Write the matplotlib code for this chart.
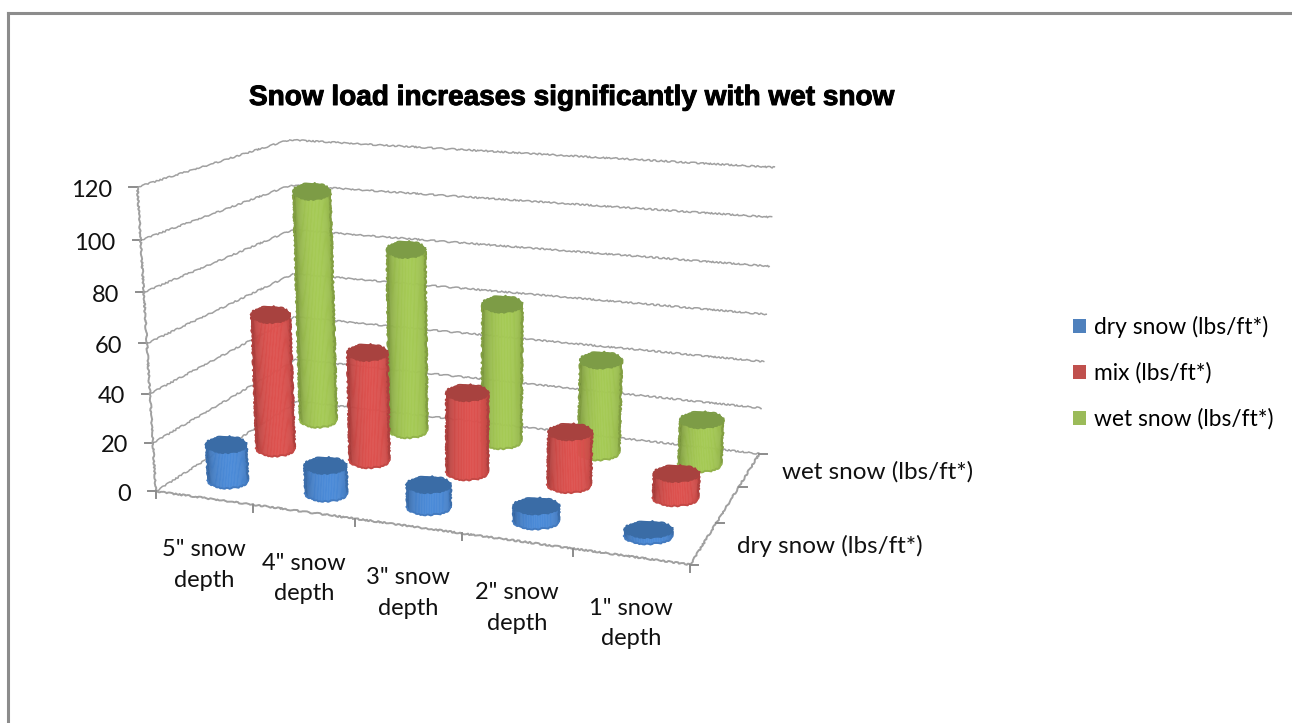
#!/usr/bin/env python3
# -*- coding: utf-8 -*-
import numpy as np
import matplotlib
matplotlib.use("Agg")
import matplotlib.pyplot as plt
from matplotlib.patches import Patch
from matplotlib.collections import PolyCollection
import matplotlib.patheffects as pe

plt.rcParams['font.family'] = ['Lato', 'DejaVu Sans']

# Chart data
categories = ['5" snow\ndepth', '4" snow\ndepth', '3" snow\ndepth', '2" snow\ndepth', '1" snow\ndepth']
series_names = ['dry snow (lbs/ft*)', 'mix (lbs/ft*)', 'wet snow (lbs/ft*)']
dry_snow = [15, 11.5, 9, 6, 2.5]
mix_snow = [58, 46, 33.5, 22, 10]
wet_snow = [102, 80, 60, 40, 19]
yticks = [0, 20, 40, 60, 80, 100, 120]
depth_ticks = [0, 2]        # only every other series gets a label

colors = ['#4f81bd', '#c0504d', '#9bbb59']
lit = ['#4a88d4', '#d9504d', '#a2c653']
tops = ['#3a6ca6', '#a8423f', '#7d9c46']

# camera calibration: (category, series, value) -> pixel, fitted by DLT
world = np.array([[0, 0, 0], [0, 0, 20], [0, 0, 40], [0, 0, 80], [0, 0, 100], [0, 0, 120],
                  [0, 3, 120], [0, 3, 0], [5, 3, 120], [5, 3, 60], [5, 3, 0], [5, 0, 0]], float)
pix = np.array([[155, 493], [152, 442], [148, 394], [145, 292], [141, 240], [139, 188],
                [287, 140], [300, 400], [775, 166], [768, 316], [758, 455], [691, 563]], float)
A = []
for (X, Y, Z), (u, v) in zip(world, pix):
    A.append([X, Y, Z, 1, 0, 0, 0, 0, -u*X, -u*Y, -u*Z, -u])
    A.append([0, 0, 0, 0, X, Y, Z, 1, -v*X, -v*Y, -v*Z, -v])
P = np.linalg.svd(np.array(A))[2][-1].reshape(3, 4)


def project(x, y, z):
    q = P @ np.array([x, y, z, np.ones_like(x)], float)
    return q[0]/q[2], q[1]/q[2]


fig = plt.figure(figsize=(12.92, 7.23), dpi=100)
ax = fig.add_axes([8/1292, 0, 1 - 8/1292, 1 - 13/723])
ax.set_xlim(8, 1292)
ax.set_ylim(723, 13)
ax.set_xticks([])
ax.set_yticks([])
for s in ['right', 'bottom']:
    ax.spines[s].set_visible(False)
for s in ['left', 'top']:
    ax.spines[s].set_color('#8c8c8c')
    ax.spines[s].set_linewidth(2.2)


def grid_line(p0, p1, lw=1.1):
    x0, y0 = project(*p0)
    x1, y1 = project(*p1)
    line, = ax.plot([x0, x1], [y0, y1], color='#a0a0a0', lw=lw, zorder=1, solid_capstyle='butt')
    line.set_sketch_params(0.7, 10, 6)


# walls and floor
for v in yticks:
    grid_line((0, 0, v), (0, 3, v))
    grid_line((0, 3, v), (5, 3, v))
    x0, y0 = project(0, 0, v)
    ax.plot([x0 - 8, x0], [y0, y0], color='#8c8c8c', lw=1.4, zorder=1)
    ax.text(x0 - 25, y0 + 3, str(v), ha='right', va='center', fontsize=17, color='#111111')
grid_line((0, 0, 0), (0, 0, 120), 1.4)
grid_line((0, 0, 0), (5, 0, 0), 1.4)
grid_line((5, 0, 0), (5, 3, 0), 1.4)

for i in range(6):
    x0, y0 = project(i, 0, 0)
    ax.plot([x0, x0], [y0, y0 + 7], color='#8c8c8c', lw=1.4, zorder=1)
for j in range(4):
    x0, y0 = project(5, j, 0)
    ax.plot([x0, x0 + 8], [y0, y0], color='#8c8c8c', lw=1.4, zorder=1)

for i, cat in enumerate(categories):
    x0, y0 = project(i + 0.5, 0, 0)
    ax.text(x0, y0 + 67, cat, ha='center', va='center', fontsize=17, color='#111111',
            linespacing=1.55)
for j in depth_ticks:
    x0, y0 = project(5, j + 0.5, 0)
    ax.text(x0 + 33, y0 + 2.5, series_names[j], ha='left', va='center', fontsize=17.5, color='#111111')


def shade(color, f):
    rgb = np.array(matplotlib.colors.to_rgb(color))
    return tuple(np.clip(rgb*f, 0, 1))


def cylinder(cx, cy, h, k, order):
    # the ellipses stay level on screen, like the spreadsheet draws them
    bx0, by0 = project(cx, cy, 0)
    tx0, ty0 = project(cx, cy, h)
    xa = project(cx - 0.21, cy, 0)[0]
    xb = project(cx + 0.21, cy, 0)[0]
    a = 0.5*(xb - xa)
    b = 8.0
    t = np.linspace(0, np.pi, 41)      # front half of the wall
    dx = a*np.cos(t)
    dy = b*np.sin(t)
    quads = []
    fc = []
    for m in range(len(t) - 1):
        quads.append([(bx0 + dx[m], by0 + dy[m]), (bx0 + dx[m+1], by0 + dy[m+1]),
                      (tx0 + dx[m+1], ty0 + dy[m+1]), (tx0 + dx[m], ty0 + dy[m])])
        c = np.sin(0.5*(t[m] + t[m+1]) + 0.15)
        fc.append(shade(lit[k], 0.70 + 0.32*max(c, 0)**0.7))
    ax.add_collection(PolyCollection(quads, facecolors=fc, edgecolors=fc, linewidths=0.4, zorder=order))
    tt = np.linspace(0, 2*np.pi, 81)
    ax.fill(tx0 + a*np.cos(tt), ty0 + b*np.sin(tt), color=tops[k], lw=0.5, zorder=order + 0.1)
    # rough edges along the silhouette
    for side in (-1, 1):
        edge, = ax.plot([bx0 + side*a, tx0 + side*a], [by0, ty0], color=shade(lit[k], 0.8), lw=1.5,
                        zorder=order + 0.05)
        edge.set_sketch_params(0.8, 4, 8)
    low, = ax.plot(bx0 + a*np.cos(t), by0 + b*np.sin(t), color=shade(lit[k], 0.9), lw=1.3, zorder=order + 0.05)
    low.set_sketch_params(0.8, 4, 8)
    rim, = ax.plot(tx0 + a*np.cos(tt), ty0 + b*np.sin(tt), color=tops[k], lw=1.2, zorder=order + 0.15)
    rim.set_sketch_params(0.8, 4, 8)


for k, vals in reversed(list(enumerate([dry_snow, mix_snow, wet_snow]))):
    for i, v in enumerate(vals):
        cylinder(2.5 + (i - 2)*1.01, k + 0.5, v, k, 10 + (2 - k)*10 + i*0.5)

title = ax.text(572.5, 98, 'Snow load increases significantly with wet snow', ha='center', va='center',
                fontsize=20.15, fontweight='bold', family='Liberation Sans', color='black')
title.set_path_effects([pe.withStroke(linewidth=0.7, foreground='black')])

handles = [Patch(facecolor=c, edgecolor='none') for c in colors]
ax.legend(handles, series_names, loc='upper left', bbox_to_anchor=((1073 - 8)/1284, 1 - (316 - 13)/710),
          frameon=False, fontsize=16.4, handlelength=0.58, handleheight=0.58, handletextpad=0.36,
          labelspacing=1.07, borderpad=0, borderaxespad=0)

fig.savefig('out.png', dpi=100)
